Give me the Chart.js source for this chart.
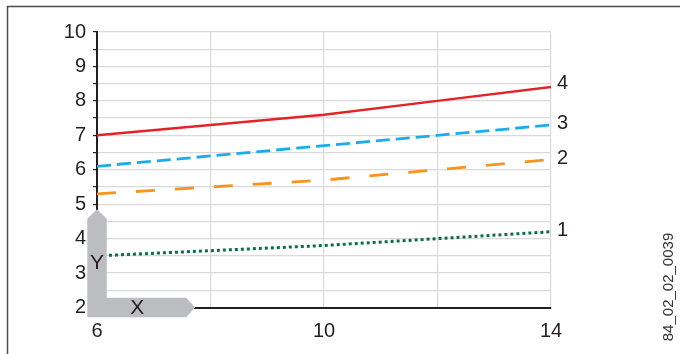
<!DOCTYPE html>
<html>
<head>
<meta charset="utf-8">
<script src="https://cdn.jsdelivr.net/npm/chart.js@4"></script>
<style>
  html, body { margin: 0; padding: 0; background: #fff; }
  #wrap { width: 680px; height: 354px; position: relative; }
</style>
</head>
<body>
<div id="wrap"><canvas id="chart" width="680" height="354"></canvas></div>
<script>
// 데이터
const xValues = [6, 8, 10, 12, 14];
const series1 = [3.5, 3.65, 3.8, 4.0, 4.2];
const series2 = [5.3, 5.5, 5.7, 6.0, 6.3];
const series3 = [6.1, 6.4, 6.7, 7.0, 7.3];
const series4 = [7.0, 7.3, 7.6, 8.0, 8.4];
const seriesNames = ['1', '2', '3', '4'];
const xTickLabels = [6, 10, 14];
const codeText = '84_02_02_0039';

const FONT = '"Liberation Sans", Arial, sans-serif';
const TEXT = '#231f20';

function toPoints(arr) {
    return arr.map((v, i) => ({ x: xValues[i], y: v }));
}

// 테두리, 회색 L 축 표시, 오른쪽 라벨
const decoPlugin = {
    id: 'deco',
    beforeDraw(chart) {
        const ctx = chart.ctx;
        ctx.save();
        ctx.strokeStyle = '#4d4d4d';
        ctx.lineWidth = 1.5;
        ctx.strokeRect(7.5, 6.5, 700, 400);
        ctx.restore();
    },
    afterDatasetsDraw(chart) {
        const ctx = chart.ctx;
        const xs = chart.scales.x, ys = chart.scales.y;
        const ax = xs.getPixelForValue(6);
        const ay = ys.getPixelForValue(2);
        const h = 9.7;

        // 회색 L
        ctx.save();
        ctx.fillStyle = '#bcbdc0';
        ctx.beginPath();
        ctx.moveTo(ax, ys.getPixelForValue(4.85));
        ctx.lineTo(ax + h, ys.getPixelForValue(4.58));
        ctx.lineTo(ax + h, ay - h);
        ctx.lineTo(xs.getPixelForValue(7.57), ay - h);
        ctx.lineTo(xs.getPixelForValue(7.73), ay);
        ctx.lineTo(xs.getPixelForValue(7.57), ay + h);
        ctx.lineTo(ax - h, ay + h);
        ctx.lineTo(ax - h, ys.getPixelForValue(4.58));
        ctx.closePath();
        ctx.fill();

        ctx.fillStyle = TEXT;
        ctx.font = '21px ' + FONT;
        ctx.textAlign = 'center';
        ctx.textBaseline = 'middle';
        ctx.fillText('Y', ax, ys.getPixelForValue(3.32) + 1);
        ctx.fillText('X', xs.getPixelForValue(6.71), ay + 1);

        // 오른쪽 시리즈 번호
        ctx.font = '20px ' + FONT;
        ctx.textAlign = 'left';
        chart.data.datasets.forEach((ds) => {
            const last = ds.data[ds.data.length - 1];
            const off = ds.label === '4' ? -4 : -1;
            ctx.fillText(ds.label, xs.getPixelForValue(last.x) + 6, ys.getPixelForValue(last.y) + off);
        });

        // 세로 코드 텍스트
        ctx.font = '15px ' + FONT;
        ctx.fillStyle = '#333';
        ctx.textAlign = 'center';
        ctx.translate(669, 287);
        ctx.rotate(-Math.PI / 2);
        ctx.fillText(codeText, 0, 0);
        ctx.restore();
    }
};

new Chart(document.getElementById('chart'), {
    type: 'line',
    data: {
        datasets: [
            {
                label: seriesNames[3],
                data: toPoints(series4),
                borderColor: '#e42229',
                borderWidth: 2.5,
                pointRadius: 0
            },
            {
                label: seriesNames[2],
                data: toPoints(series3),
                borderColor: '#1badea',
                borderWidth: 2.8,
                borderDash: [14, 6],
                pointRadius: 0
            },
            {
                label: seriesNames[1],
                data: toPoints(series2),
                borderColor: '#f7941d',
                borderWidth: 2.8,
                borderDash: [19, 20],
                pointRadius: 0
            },
            {
                label: seriesNames[0],
                data: toPoints(series1),
                borderColor: '#0b6e4a',
                borderWidth: 3,
                borderDash: [3, 3],
                pointRadius: 0
            }
        ]
    },
    options: {
        responsive: false,
        animation: false,
        layout: { padding: { left: 0, top: 32, right: 129, bottom: 0 } },
        plugins: {
            legend: { display: false },
            tooltip: { enabled: false }
        },
        scales: {
            x: {
                type: 'linear',
                min: 6,
                max: 14,
                afterFit(scale) { scale.height = 46.5; },
                ticks: {
                    stepSize: 2,
                    padding: 12,
                    color: TEXT,
                    font: { family: FONT, size: 20 },
                    maxRotation: 0,
                    autoSkip: false,
                    callback: (v) => xTickLabels.includes(v) ? String(v) : ''
                },
                grid: { color: '#d9d9d9', lineWidth: 1.2, drawTicks: false },
                border: { color: TEXT, width: 2 }
            },
            y: {
                min: 2,
                max: 10,
                afterFit(scale) { scale.width = 97; },
                ticks: {
                    stepSize: 0.5,
                    maxTicksLimit: 20,
                    padding: 7,
                    color: TEXT,
                    autoSkip: false,
                    font: { family: FONT, size: 20 },
                    callback: (v) => Number.isInteger(v) ? String(v) : ''
                },
                grid: { color: '#d9d9d9', lineWidth: 1.2, tickColor: TEXT, tickLength: 4, tickWidth: 1.2 },
                border: { color: TEXT, width: 2 }
            }
        }
    },
    plugins: [decoPlugin]
});
</script>
</body>
</html>
